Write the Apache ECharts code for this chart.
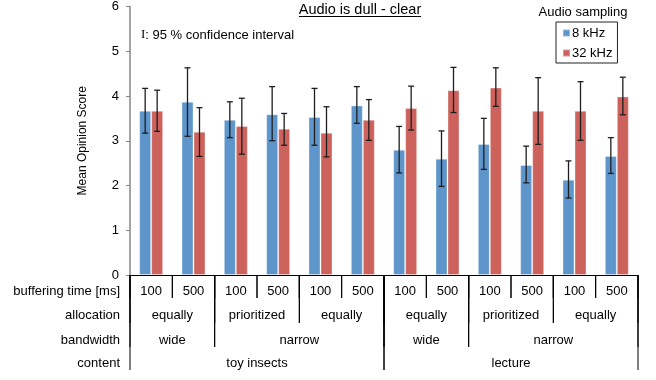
<!DOCTYPE html>
<html><head><meta charset="utf-8">
<script src="https://cdn.jsdelivr.net/npm/echarts@6/dist/echarts.min.js"></script>
<style>html,body{margin:0;padding:0;background:#fff}#c{width:656px;height:380px}</style>
</head><body><div id="c"></div><script>
// ---- data ----
const bufferingTimes = ['100','500','100','500','100','500','100','500','100','500','100','500'];
const mos8    = [3.67,3.87,3.47,3.59,3.53,3.79,2.80,2.60,2.93,2.46,2.13,2.66];
const ci8Low  = [3.17,3.10,3.07,3.00,2.90,3.39,2.28,1.98,2.36,2.06,1.72,2.27];
const ci8High = [4.17,4.63,3.87,4.21,4.17,4.21,3.32,3.22,3.50,2.88,2.55,3.07];
const mos32    = [3.67,3.20,3.33,3.27,3.18,3.47,3.73,4.13,4.19,3.67,3.67,3.99];
const ci32Low  = [3.21,2.65,2.70,2.90,2.64,3.01,3.24,3.63,3.77,2.92,3.01,3.58];
const ci32High = [4.13,3.74,3.95,3.61,3.76,3.92,4.22,4.64,4.63,4.41,4.32,4.42];
const allocationGroups = [['equally',0,2],['prioritized',2,4],['equally',4,6],['equally',6,8],['prioritized',8,10],['equally',10,12]];
const bandwidthGroups  = [['wide',0,2],['narrow',2,6],['wide',6,8],['narrow',8,12]];
const contentGroups    = [['toy insects',0,6],['lecture',6,12]];
const rowNames = ['buffering time [ms]','allocation','bandwidth','content'];
const seriesNames = ['8 kHz','32 kHz'];
const yMin = 0, yMax = 6, yStep = 1;
const titleText = 'Audio is dull - clear';
const legendTitle = 'Audio sampling';
const noteText = ': 95 % confidence interval';

// ---- layout / style ----
const FONT = '"Liberation Sans", Arial, sans-serif';
const BLUE = '#5e95cb', RED = '#cd625c';
const BAR_W = 12;
const rowCenter = [16, 40, 65, 88];
const rowBottom = [23, 48, 72, 95];

const levels = [bufferingTimes.map((t,i)=>[t,i,i+1]), allocationGroups, bandwidthGroups, contentGroups];
const groupItems = [];
levels.forEach((lv, li) => lv.forEach(g => groupItems.push({label:g[0], s:g[1], e:g[2], lvl:li})));

function errRender(offsetSign, lows, highs) {
  return function(params, api) {
    const i = api.value(0);
    const top = api.coord([i, api.value(2)]);
    const bot = api.coord([i, api.value(1)]);
    const x = top[0] + offsetSign * BAR_W / 2;
    const st = {stroke:'#1e1e1e', lineWidth:1.3};
    return {type:'group', children:[
      {type:'line', shape:{x1:x, y1:top[1], x2:x, y2:bot[1]}, style:st},
      {type:'line', shape:{x1:x-3, y1:top[1], x2:x+3, y2:top[1]}, style:st},
      {type:'line', shape:{x1:x-3, y1:bot[1], x2:x+3, y2:bot[1]}, style:st}
    ]};
  };
}

const chart = echarts.init(document.getElementById('c'), null, {renderer:'canvas'});
chart.setOption({
  animation:false,
  textStyle:{fontFamily:FONT},
  grid:{left:130, right:18, top:5, bottom:105},
  xAxis:[
    {type:'category', data:bufferingTimes.map((t,i)=>i), axisLine:{lineStyle:{color:'#000', width:1}},
     axisTick:{show:false}, axisLabel:{show:false}},
    {type:'value', min:0, max:bufferingTimes.length, show:false}
  ],
  yAxis:{type:'value', min:yMin, max:yMax, interval:yStep,
    name:'Mean Opinion Score', nameLocation:'middle', nameGap:41,
    nameTextStyle:{fontSize:12, color:'#000', fontFamily:FONT},
    axisLine:{show:true, lineStyle:{color:'#868686', width:1.5}},
    axisTick:{show:true, length:4, lineStyle:{color:'#868686'}},
    axisLabel:{fontSize:13, color:'#000', margin:11, fontFamily:FONT},
    splitLine:{show:false}},
  legend:{data:seriesNames, orient:'vertical', left:556, top:22, itemWidth:7, itemHeight:7, itemGap:6,
    padding:[4,5,3,6], borderColor:'#222', borderWidth:1, icon:'rect',
    textStyle:{fontSize:13, color:'#000', lineHeight:14, fontFamily:FONT, padding:[0,0,0,-3]}},
  graphic:[
    {type:'text', left:'center', style:{text:titleText, x:360, y:10, align:'center', verticalAlign:'middle', font:'14.5px '+FONT, fill:'#000'}, left:null},
    {type:'line', shape:{x1:299, y1:16.5, x2:421, y2:16.5}, style:{stroke:'#000', lineWidth:1}},
    {type:'text', style:{text:legendTitle, x:583, y:12.5, align:'center', verticalAlign:'middle', font:'13px '+FONT, fill:'#000'}},
    {type:'text', style:{rich:{s:{fontFamily:'"Liberation Serif", serif', fontSize:13, fill:'#000'}, t:{fontFamily:FONT, fontSize:13, fill:'#000'}},
      text:'{s|I}{t|'+noteText+'}', x:141, y:35, verticalAlign:'middle', fill:'#000'}}
  ],
  series:[
    {type:'bar', name:seriesNames[0], data:mos8, barWidth:BAR_W, barGap:'0%',
     itemStyle:{color:BLUE, borderColor:'rgba(255,255,255,0.35)', borderWidth:1}},
    {type:'bar', name:seriesNames[1], data:mos32, barWidth:BAR_W, barGap:'0%',
     itemStyle:{color:RED, borderColor:'rgba(255,255,255,0.35)', borderWidth:1}},
    {type:'custom', silent:true, z:5, xAxisIndex:0, renderItem:errRender(-1),
     data:mos8.map((v,i)=>[i, ci8Low[i], ci8High[i]]), encode:{x:0, y:[1,2]}},
    {type:'custom', silent:true, z:5, xAxisIndex:0, renderItem:errRender(1),
     data:mos32.map((v,i)=>[i, ci32Low[i], ci32High[i]]), encode:{x:0, y:[1,2]}},
    {type:'custom', silent:true, clip:false, xAxisIndex:1,
     data:groupItems.map(g=>[g.s, g.e, g.lvl, 0]), encode:{x:[0,1], y:3},
     renderItem:function(params, api){
       const g = groupItems[params.dataIndex];
       const p0 = api.coord([api.value(0), 0]);
       const p1 = api.coord([api.value(1), 0]);
       const lvl = api.value(2);
       const y0 = p0[1];
       const st = {stroke:'#000', lineWidth:1};
       return {type:'group', children:[
         {type:'line', shape:{x1:p0[0], y1:y0, x2:p0[0], y2:y0+rowBottom[lvl]}, style:st},
         {type:'line', shape:{x1:p1[0], y1:y0, x2:p1[0], y2:y0+rowBottom[lvl]}, style:st},
         {type:'text', style:{text:g.label, x:(p0[0]+p1[0])/2, y:y0+rowCenter[lvl], align:'center', verticalAlign:'middle', font:'13px '+FONT, fill:'#000'}}
       ]};
     }},
    {type:'custom', silent:true, clip:false, xAxisIndex:1,
     data:rowNames.map((n,i)=>[0, i, 0]), encode:{x:0, y:2},
     renderItem:function(params, api){
       const p = api.coord([0, 0]);
       const lvl = api.value(1);
       return {type:'text', style:{text:rowNames[params.dataIndex], x:p[0]-10, y:p[1]+rowCenter[lvl], align:'right', verticalAlign:'middle', font:'13px '+FONT, fill:'#000'}};
     }}
  ]
});
</script></body></html>
